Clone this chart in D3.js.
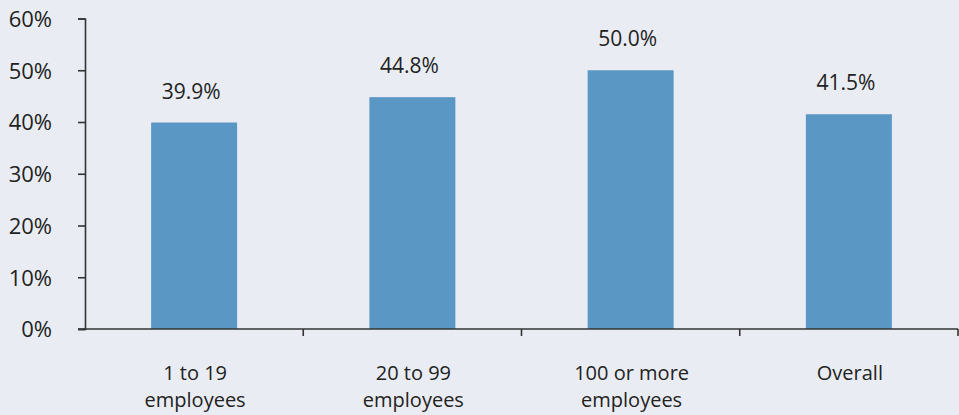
<!DOCTYPE html>
<html>
<head>
<meta charset="utf-8">
<script src="https://cdn.jsdelivr.net/npm/d3@7"></script>
<style>
  html, body { margin: 0; padding: 0; background: #e9edf3; }
  svg { display: block; }
  text { font-family: "Open Sans", "Noto Sans", sans-serif; fill: #222; }
</style>
</head>
<body>
<svg id="chart" width="959" height="415"></svg>
<script>
const categories = [["1 to 19", "employees"], ["20 to 99", "employees"], ["100 or more", "employees"], ["Overall"]];
const values = [39.9, 44.8, 50.0, 41.5];
const yTicks = [0, 10, 20, 30, 40, 50, 60];

const W = 959, H = 415;
const margin = { left: 85, right: 1, top: 18.5, bottom: 86 };
const svg = d3.select("#chart");
svg.append("rect").attr("width", W).attr("height", H).attr("fill", "#e9edf3");

const x = d3.scaleBand()
  .domain(d3.range(categories.length))
  .range([margin.left, W - margin.right])
  .paddingInner(0).paddingOuter(0);
const y = d3.scaleLinear().domain([0, 60]).range([H - margin.bottom, margin.top]);

const barW = 86;

// bars
svg.append("g").selectAll("rect").data(values).join("rect")
  .attr("x", (d, i) => x(i) + x.bandwidth() / 2 - barW / 2)
  .attr("width", barW)
  .attr("y", d => y(d))
  .attr("height", d => y(0) - y(d))
  .attr("fill", "#5a97c5");

// value labels
svg.append("g").selectAll("text").data(values).join("text")
  .attr("x", (d, i) => x(i) + x.bandwidth() / 2 - 3)
  .attr("y", d => y(d) - 24)
  .attr("text-anchor", "middle")
  .style("font-size", "21px")
  .text(d => d.toFixed(1) + "%");

// y axis
const yAxis = d3.axisLeft(y).tickValues(yTicks).tickSize(7).tickPadding(26)
  .tickFormat(d => d + "%");
const gy = svg.append("g").attr("transform", `translate(${margin.left},0)`).call(yAxis);
gy.select(".domain").attr("stroke", "#333").attr("stroke-width", 1.6);
gy.selectAll(".tick line").attr("stroke", "#333").attr("stroke-width", 1.6);
gy.selectAll(".tick text").style("font-size", "22px").style("font-family", "\"Open Sans\", sans-serif")
  .attr("fill", "#222").attr("dy", "0.36em");

// x axis
const xEdges = d3.range(categories.length + 1).map(i => margin.left + i * x.bandwidth());
const gx = svg.append("g");
gx.append("line")
  .attr("x1", margin.left - 7).attr("x2", W - margin.right)
  .attr("y1", y(0)).attr("y2", y(0))
  .attr("stroke", "#333").attr("stroke-width", 1.6);
gx.selectAll("line.tk").data(xEdges.slice(1)).join("line").attr("class", "tk")
  .attr("x1", d => d).attr("x2", d => d)
  .attr("y1", y(0)).attr("y2", y(0) + 7)
  .attr("stroke", "#333").attr("stroke-width", 1.6);

const labs = gx.selectAll("text.cat").data(categories).join("text").attr("class", "cat")
  .attr("text-anchor", "middle")
  .style("font-size", "20px");
labs.each(function(lines, i) {
  const t = d3.select(this);
  lines.forEach((l, j) => {
    t.append("tspan")
      .attr("x", x(i) + x.bandwidth() / 2 + 1)
      .attr("y", y(0) + 51 + j * 27)
      .text(l);
  });
});
</script>
</body>
</html>
